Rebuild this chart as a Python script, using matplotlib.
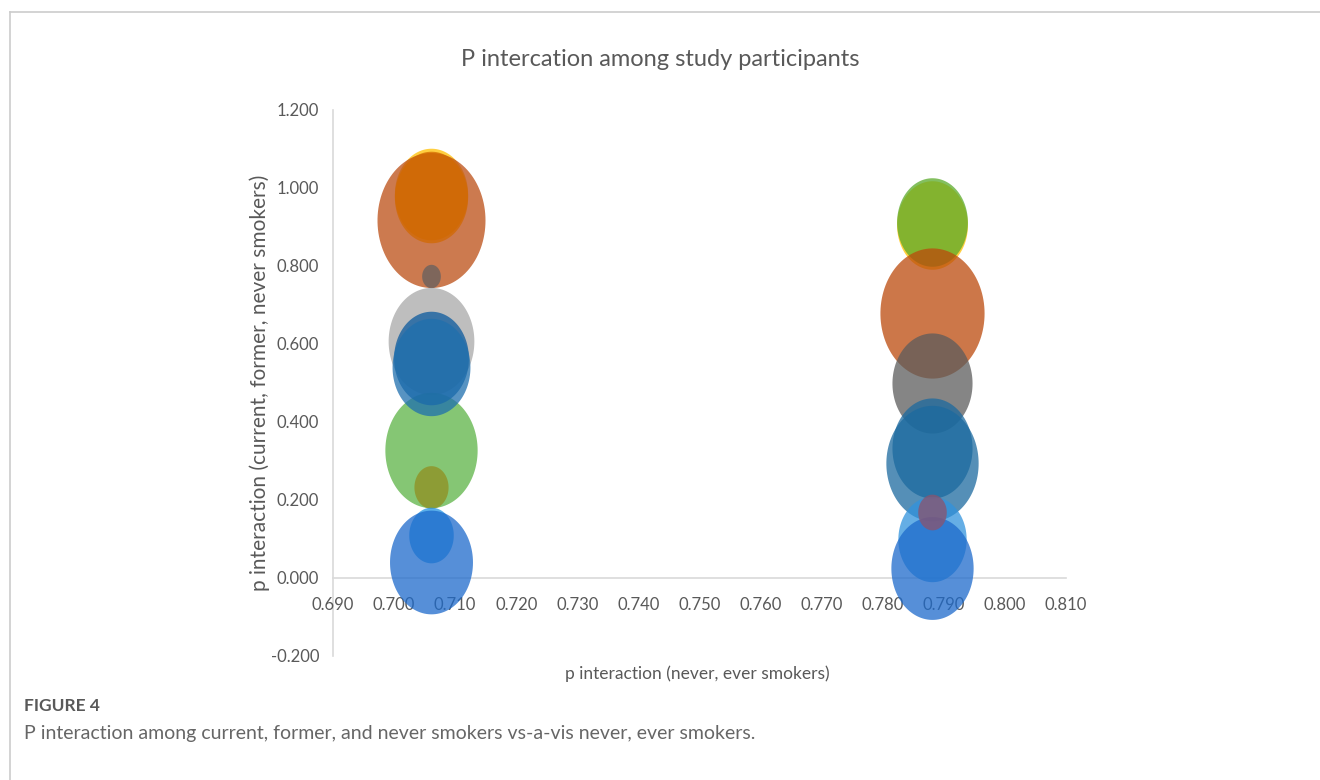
import numpy as np
import matplotlib
matplotlib.use("Agg")
import matplotlib.pyplot as plt
from matplotlib.lines import Line2D

plt.rcParams["font.family"] = ["Lato", "DejaVu Sans"]

# p interaction (never, ever smokers): one value per column of bubbles
p_never_ever = [0.706, 0.788]

# p interaction (current, former, never smokers), bubble size and colour,
# listed in drawing order (first entry ends up underneath)
p_cfn_left = [0.985, 0.918, 0.977, 0.774, 0.608, 0.328, 0.233, 0.565, 0.540, 0.110, 0.041]
size_left = [0.46, 1.00, 0.46, 0.03, 0.63, 0.73, 0.10, 0.48, 0.52, 0.17, 0.59]
colors_left = ["#ffc000", "#bb4d14", "#d26900", "#646060", "#a8a8a8", "#5cb345",
               "#918f20", "#0b5a9e", "#1f6fae", "#2394e4", "#1d6acb"]

p_cfn_right = [0.905, 0.913, 0.679, 0.500, 0.333, 0.295, 0.100, 0.025, 0.169]
size_right = [0.43, 0.43, 0.93, 0.55, 0.55, 0.73, 0.40, 0.58, 0.07]
colors_right = ["#ffc000", "#5aaa2a", "#bc4a0c", "#5c5c5c", "#1c6a9f", "#1c6a9f",
                "#3193dd", "#1d6acb", "#8c536d"]

x_ticks = np.arange(0.69, 0.8101, 0.01)
y_ticks = np.arange(-0.2, 1.2001, 0.2)

DPI = 100
MAX_WIDTH_PX = 108      # width of the largest bubble
ASPECT = 1.25           # bubbles are drawn taller than wide

# elliptical marker (matplotlib normalises it by its largest extent)
theta = np.linspace(0, 2 * np.pi, 120)
ellipse = np.column_stack([np.cos(theta), ASPECT * np.sin(theta)])


def marker_area(sizes):
    """Bubble area scales with size; return scatter s in points^2."""
    width_px = MAX_WIDTH_PX * np.sqrt(np.asarray(sizes) / 1.0)
    height_pt = width_px * ASPECT * 72.0 / DPI
    return height_pt ** 2


fig = plt.figure(figsize=(13.2, 7.8), dpi=DPI)
ax = fig.add_axes([333 / 1320, 124 / 780, 733 / 1320, 546 / 780])

for x, ys, sizes, colors in [(p_never_ever[0], p_cfn_left, size_left, colors_left),
                             (p_never_ever[1], p_cfn_right, size_right, colors_right)]:
    for y, sz, c in zip(ys, sizes, colors):
        ax.scatter([x], [y], s=marker_area([sz]), marker=ellipse, color=c,
                   alpha=0.75, linewidths=0, zorder=3)

ax.set_xlim(0.69, 0.81)
ax.set_ylim(-0.2, 1.2)
ax.set_xticks(x_ticks)
ax.set_yticks(y_ticks)
ax.set_xticklabels([f"{v:.3f}" for v in x_ticks])
ax.set_yticklabels([f"{v:.3f}" for v in y_ticks])

for side in ["top", "right"]:
    ax.spines[side].set_visible(False)
ax.spines["bottom"].set_position(("data", 0))
for side in ["left", "bottom"]:
    ax.spines[side].set_color("#d9d9d9")
    ax.spines[side].set_linewidth(1.2)
    ax.spines[side].set_zorder(1)

ax.tick_params(axis="x", length=0, pad=14, labelsize=12, labelcolor="#595959")
ax.tick_params(axis="y", length=0, pad=10, labelsize=12, labelcolor="#595959")

ax.set_xlabel("p interaction (never, ever smokers)", fontsize=12.5, color="#595959")
ax.set_ylabel("p interaction (current, former, never smokers)", fontsize=15, color="#595959")
ax.xaxis.set_label_coords(0.497, -0.018)
ax.yaxis.set_label_coords(-0.086, 0.5)

fig.text(0.5, 1 - 60 / 780, "P intercation among study participants", ha="center",
         va="center", fontsize=17, color="#595959")

# frame around the figure panel
fig.add_artist(Line2D([9.5 / 1320, 9.5 / 1320], [0, 1 - 12 / 780],
                      transform=fig.transFigure, color="#cccccc", lw=1.2))
fig.add_artist(Line2D([9.5 / 1320, 1], [1 - 12 / 780, 1 - 12 / 780],
                      transform=fig.transFigure, color="#cccccc", lw=1.2))

fig.text(24 / 1320, 1 - 706 / 780, "FIGURE 4", ha="left", va="center",
         fontsize=12.5, fontweight="bold", color="#595959")
fig.text(24 / 1320, 1 - 733 / 780,
         "P interaction among current, former, and never smokers vs-a-vis never, ever smokers.",
         ha="left", va="center", fontsize=14, color="#666666")

fig.savefig("out.png", dpi=DPI)
